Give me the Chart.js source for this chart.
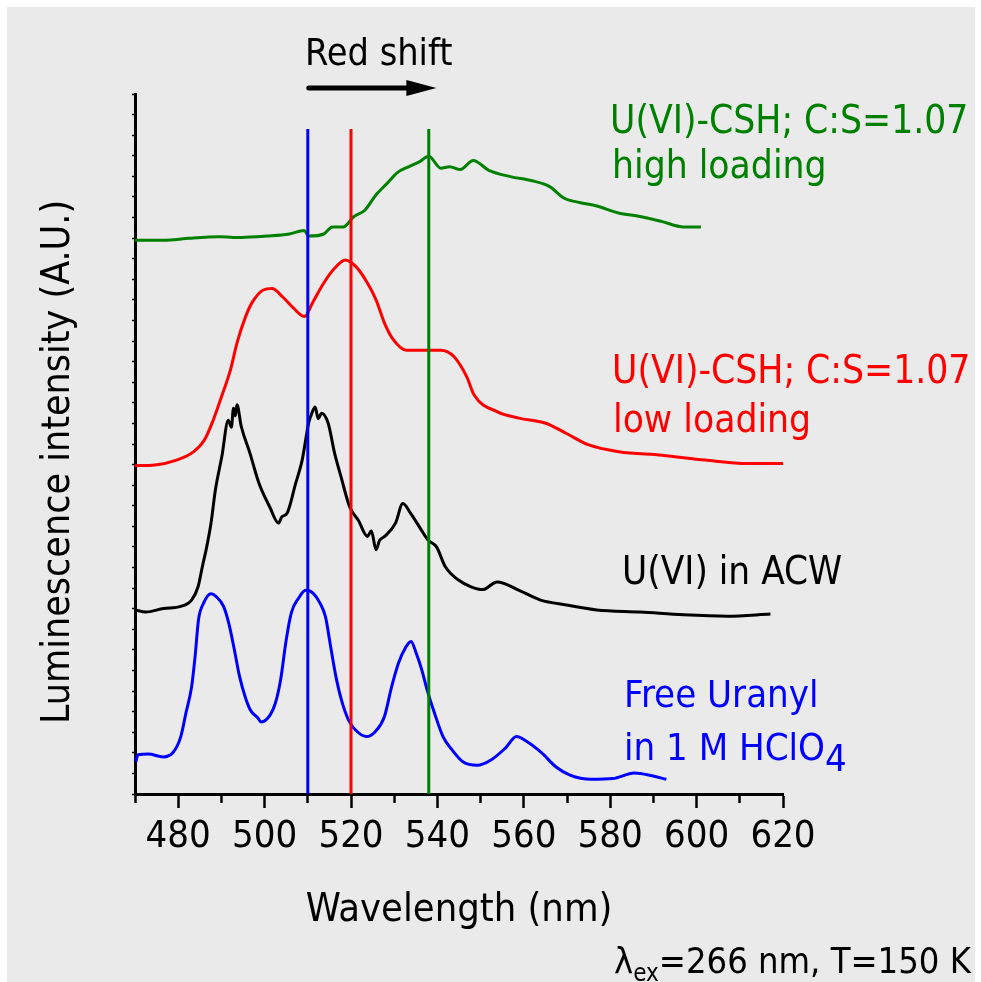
<!DOCTYPE html>
<html>
<head>
<meta charset="utf-8">
<script src="https://cdn.jsdelivr.net/npm/chart.js@4.4.0/dist/chart.umd.min.js"></script>
<style>
  html, body { margin: 0; padding: 0; background: #ffffff; }
  canvas { display: block; }
</style>
</head>
<body>
<canvas id="chart" width="981" height="982"></canvas>
<script>
const FONT = '"DejaVu Sans Condensed", "DejaVu Sans", sans-serif'

// spectra, wavelength (nm) vs intensity (arb., 0..100 of the axis height)
const blueWl = [470.2, 470.7, 473.1, 476.5, 478.9, 480.6, 481.8, 483.1, 483.9, 484.7, 485.9, 487.6, 488.8, 490.5, 491.7, 493.0, 494.2, 495.5, 496.7, 498.4, 499.2, 501.3, 502.5, 503.7, 505.0, 506.2, 507.9, 509.5, 511.2, 512.8, 514.1, 515.3, 516.5, 517.8, 519.4, 521.1, 523.6, 525.6, 527.7, 529.4, 531.0, 532.7, 533.9, 535.1, 536.4, 537.6, 539.3, 541.3, 543.4, 545.9, 549.2, 552.5, 555.8, 558.3, 560.7, 564.1, 567.4, 570.7, 575.6, 580.6, 585.6, 589.7, 593.0]
const blueInt = [4.6, 5.6, 5.7, 5.3, 6.0, 8.2, 11.6, 15.3, 19.6, 24.9, 27.3, 28.6, 28.2, 26.8, 24.4, 20.6, 16.8, 13.9, 12.0, 10.9, 10.3, 11.3, 13.0, 16.3, 22.0, 25.9, 28.0, 29.1, 28.7, 27.3, 25.3, 21.0, 16.8, 13.4, 10.6, 9.1, 8.2, 8.9, 11.0, 15.3, 18.7, 21.0, 21.8, 20.1, 17.7, 14.9, 11.6, 8.2, 6.3, 4.6, 4.1, 4.9, 6.6, 8.2, 7.5, 5.9, 3.9, 2.7, 2.1, 2.2, 3.0, 2.6, 2.1]

const blackWl = [470.0, 472.5, 476.6, 480.6, 483.1, 484.6, 485.6, 486.6, 487.6, 488.6, 490.1, 491.6, 492.3, 492.8, 493.2, 493.6, 494.6, 496.6, 498.7, 501.2, 503.2, 504.0, 505.2, 507.2, 508.7, 510.2, 511.0, 511.7, 512.4, 513.2, 514.7, 516.2, 517.7, 519.7, 521.7, 523.8, 524.7, 525.8, 526.6, 527.8, 530.3, 532.0, 533.8, 535.8, 537.8, 539.8, 541.8, 544.8, 547.8, 550.5, 553.8, 558.9, 563.9, 569.9, 576.9, 587.0, 597.0, 607.1, 617.1]
const blackInt = [26.3, 26.0, 26.5, 26.8, 27.7, 29.6, 32.5, 35.3, 38.7, 43.4, 48.2, 53.4, 52.4, 55.1, 54.0, 55.6, 52.5, 48.7, 44.4, 41.0, 38.7, 39.6, 40.1, 44.4, 47.7, 53.0, 54.5, 55.3, 53.6, 54.4, 53.0, 48.7, 45.3, 41.0, 39.1, 36.8, 37.6, 34.9, 36.2, 36.8, 38.7, 41.5, 40.1, 38.2, 36.3, 35.3, 32.5, 30.6, 29.6, 29.2, 30.3, 29.1, 27.7, 27.0, 26.3, 26.0, 25.6, 25.4, 25.7]

const redWl = [470.0, 474.6, 479.6, 483.6, 486.1, 488.1, 490.1, 492.1, 493.6, 495.6, 497.2, 499.7, 501.7, 504.2, 506.7, 509.2, 511.2, 513.7, 516.2, 518.7, 521.2, 523.8, 525.8, 527.8, 529.8, 532.8, 536.8, 540.8, 543.8, 546.8, 548.5, 553.9, 558.9, 564.9, 569.9, 574.9, 582.0, 592.0, 602.0, 612.0, 620.0]
const redInt = [46.9, 47.0, 47.7, 48.9, 50.6, 53.4, 56.9, 60.6, 64.4, 68.2, 70.3, 72.0, 72.2, 71.0, 69.4, 68.2, 70.3, 73.0, 75.1, 76.3, 75.3, 73.0, 70.6, 67.2, 64.9, 63.4, 63.4, 63.4, 62.5, 59.6, 57.0, 54.6, 53.7, 53.0, 51.5, 49.9, 48.9, 48.4, 47.7, 47.2, 47.2]

const greenWl = [470.0, 476.6, 482.6, 489.6, 494.6, 500.6, 505.7, 509.2, 510.2, 513.7, 515.7, 518.2, 520.7, 523.2, 525.8, 528.3, 530.8, 533.3, 535.8, 538.0, 540.8, 542.8, 545.3, 548.3, 551.9, 556.9, 561.9, 565.9, 569.4, 572.9, 576.9, 581.9, 586.9, 591.9, 597.0, 601.0]
const greenInt = [79.1, 79.1, 79.4, 79.6, 79.5, 79.7, 80.0, 80.5, 79.7, 80.0, 81.0, 81.0, 82.5, 83.4, 85.6, 87.2, 88.8, 89.6, 90.3, 91.1, 89.4, 89.6, 89.2, 90.5, 89.1, 88.2, 87.6, 86.8, 85.1, 84.5, 84.0, 83.0, 82.5, 81.8, 81.0, 81.0]

// peak position markers
const markerWl = [510, 520, 538]
const markerColors = ['#0000ff', '#ff0000', '#008000']
const markerTop = 95

const xTickLabels = [480, 500, 520, 540, 560, 580, 600, 620]
const yTickCount = 34

const toPoints = (xs, ys) => xs.map((x, i) => ({x: x, y: ys[i]}))

const curve = (label, color, xs, ys) => ({
    label: label,
    data: toPoints(xs, ys),
    borderColor: color,
    borderWidth: 3,
    pointRadius: 0,
    fill: false,
    cubicInterpolationMode: 'monotone',
    order: 1
})

const datasets = [
    curve('Free Uranyl', '#0000ff', blueWl, blueInt),
    curve('U(VI) in ACW', '#000000', blackWl, blackInt),
    curve('low loading', '#ff0000', redWl, redInt),
    curve('high loading', '#008000', greenWl, greenInt)
]
markerWl.forEach((wl, i) => {
    datasets.push({
        label: 'marker ' + wl,
        data: [{x: wl, y: 0}, {x: wl, y: markerTop}],
        borderColor: markerColors[i],
        borderWidth: 3,
        pointRadius: 0,
        order: 0
    })
})

const background = {
    id: 'background',
    beforeDraw(chart) {
        const ctx = chart.ctx
        ctx.save()
        ctx.fillStyle = '#ffffff'
        ctx.fillRect(0, 0, chart.width, chart.height)
        ctx.fillStyle = '#eaeaea'
        ctx.fillRect(7, 7, chart.width - 13, chart.height - 7)
        ctx.restore()
    }
}

const notes = {
    id: 'notes',
    afterDraw(chart) {
        const ctx = chart.ctx
        const x = chart.scales.x
        const y = chart.scales.y
        ctx.save()

        // y axis title
        ctx.save()
        ctx.translate(59, (y.top + y.bottom) / 2 + 18)
        ctx.rotate(-Math.PI / 2)
        ctx.textAlign = 'center'
        ctx.textBaseline = 'middle'
        ctx.fillStyle = '#000000'
        ctx.font = '39px ' + FONT
        ctx.fillText('Luminescence intensity (A.U.)', 0, 0)
        ctx.restore()

        ctx.textAlign = 'left'
        ctx.textBaseline = 'alphabetic'

        ctx.font = '38.6px ' + FONT
        ctx.fillStyle = '#008000'
        ctx.fillText('U(VI)-CSH; C:S=1.07', 610, 133)
        ctx.fillText('high loading', 612, 178)

        ctx.fillStyle = '#ff0000'
        ctx.fillText('U(VI)-CSH; C:S=1.07', 612, 383)
        ctx.fillText('low loading', 613, 432)

        ctx.font = '38.3px ' + FONT
        ctx.fillStyle = '#000000'
        ctx.fillText('U(VI) in ACW', 622, 584)

        ctx.font = '38px ' + FONT
        ctx.fillStyle = '#0000ff'
        ctx.fillText('Free Uranyl', 624, 707)
        ctx.fillText('in 1 M HClO', 624, 760)
        const w = ctx.measureText('in 1 M HClO').width
        ctx.fillText('4', 624 + w, 771)

        // red shift arrow
        ctx.fillStyle = '#000000'
        ctx.font = '37.5px ' + FONT
        ctx.fillText('Red shift', 305, 65)
        const x0 = x.getPixelForValue(510)
        const x1 = x.getPixelForValue(540)
        ctx.strokeStyle = '#000000'
        ctx.lineWidth = 5
        ctx.lineCap = 'round'
        ctx.beginPath()
        ctx.moveTo(x0 + 1, 88)
        ctx.lineTo(x1 - 22, 88)
        ctx.stroke()
        ctx.beginPath()
        ctx.moveTo(x1 - 31, 80)
        ctx.lineTo(x1 - 1, 88)
        ctx.lineTo(x1 - 31, 96)
        ctx.closePath()
        ctx.fill()

        // excitation / temperature note
        ctx.font = '36px ' + FONT
        ctx.fillText('\u03bb', 614, 973)
        let px = 614 + ctx.measureText('\u03bb').width
        ctx.font = '24px ' + FONT
        ctx.fillText('ex', px, 981)
        px += ctx.measureText('ex').width
        ctx.font = '36px ' + FONT
        ctx.fillText('=266 nm, T=150 K', px, 973)
        ctx.restore()
    }
}

window.onload = () => {
    new Chart(document.getElementById('chart'), {
        type: 'line',
        data: {datasets: datasets},
        options: {
            responsive: false,
            animation: false,
            events: [],
            layout: {padding: {left: 0, right: 198, top: 94, bottom: 0}},
            plugins: {legend: {display: false}, tooltip: {enabled: false}},
            scales: {
                x: {
                    type: 'linear',
                    min: 470,
                    max: 620,
                    afterFit: s => { s.height = 188 },
                    border: {display: true, color: '#000000', width: 3},
                    grid: {
                        drawOnChartArea: false,
                        tickLength: 14,
                        tickColor: '#000000',
                        tickWidth: 2.5,
                        tickBorderDash: c => (c.tick && c.tick.value % 20 === 0) ? [] : [7, 100]
                    },
                    ticks: {
                        stepSize: 10,
                        autoSkip: false,
                        maxRotation: 0,
                        padding: 6,
                        color: '#000000',
                        font: {family: FONT, size: 38},
                        callback: v => xTickLabels.includes(v) ? String(v) : ''
                    },
                    title: {
                        display: true,
                        text: 'Wavelength (nm)',
                        color: '#000000',
                        font: {family: FONT, size: 39.5},
                        padding: {top: 0, bottom: 48}
                    }
                },
                y: {
                    type: 'linear',
                    min: 0,
                    max: 100,
                    afterFit: s => { s.width = 135 },
                    afterBuildTicks: s => {
                        s.ticks = Array.from({length: yTickCount + 1}, (_, i) => ({value: i * 100 / yTickCount}))
                    },
                    border: {display: true, color: '#000000', width: 3},
                    grid: {
                        drawOnChartArea: false,
                        tickLength: 3,
                        tickColor: '#000000',
                        tickWidth: 1.5
                    },
                    ticks: {display: false},
                    title: {display: false}
                }
            }
        },
        plugins: [background, notes]
    })
}
</script>
</body>
</html>
